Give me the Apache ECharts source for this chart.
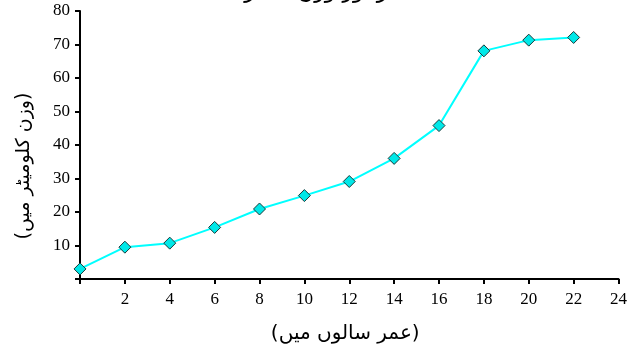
<!DOCTYPE html>
<html>
<head>
<meta charset="utf-8">
<script src="https://cdn.jsdelivr.net/npm/echarts@6/dist/echarts.min.js"></script>
<style>html,body{margin:0;padding:0;background:#fff;}#c{width:630px;height:355px;}</style>
</head>
<body>
<div id="c"></div>
<script>
const ages = [0, 2, 4, 6, 8, 10, 12, 14, 16, 18, 20, 22];
const weights = [3.0, 9.5, 10.7, 15.4, 20.9, 24.9, 29.1, 36.0, 45.8, 68.1, 71.3, 72.1];
const xTitle = '(عمر سالوں میں)';
const yTitle = '(وزن کلومیٹر میں)';
const titleText = 'عمر اور وزن کا گراف';

const chart = echarts.init(document.getElementById('c'), null, {renderer: 'canvas'});
chart.setOption({
  animation: false,
  backgroundColor: '#ffffff',
  title: {
    text: titleText, left: 'center', top: -24,
    textStyle: {fontFamily: 'DejaVu Sans', fontSize: 22, fontWeight: 'normal', color: '#000'}
  },
  grid: {left: 80, right: 10, top: 11, bottom: 76, containLabel: false},
  xAxis: {
    type: 'value', min: 0, max: 24, interval: 2,
    axisLine: {show: true, lineStyle: {color: '#000', width: 2}},
    axisTick: {show: true, length: 5, lineStyle: {color: '#000', width: 2}},
    splitLine: {show: false},
    axisLabel: {
      color: '#000', fontFamily: 'Liberation Serif', fontSize: 17, margin: 12,
      formatter: v => v === 0 ? '' : String(v)
    },
    name: xTitle, nameLocation: 'middle', nameGap: 45,
    nameTextStyle: {fontFamily: 'DejaVu Sans', fontSize: 20, color: '#000', padding: [0, 8, 0, 0]}
  },
  yAxis: {
    type: 'value', min: 0, max: 80, interval: 10,
    axisLine: {show: true, lineStyle: {color: '#000', width: 2}},
    axisTick: {show: true, length: 5, lineStyle: {color: '#000', width: 2}},
    splitLine: {show: false},
    axisLabel: {
      color: '#000', fontFamily: 'Liberation Serif', fontSize: 17, margin: 10,
      formatter: v => v === 0 ? '' : String(v)
    },
    name: yTitle, nameLocation: 'middle', nameGap: 46, nameRotate: 90,
    nameTextStyle: {fontFamily: 'DejaVu Sans', fontSize: 19, color: '#000', padding: [0, 42, 0, 0]}
  },
  series: [{
    type: 'line',
    data: ages.map((a, i) => [a, weights[i]]),
    symbol: 'diamond', symbolSize: 12,
    lineStyle: {color: '#00FFFF', width: 2},
    itemStyle: {color: '#00E8E8', borderColor: '#1a3a3a', borderWidth: 1},
    clip: false
  }]
});
</script>
</body>
</html>
